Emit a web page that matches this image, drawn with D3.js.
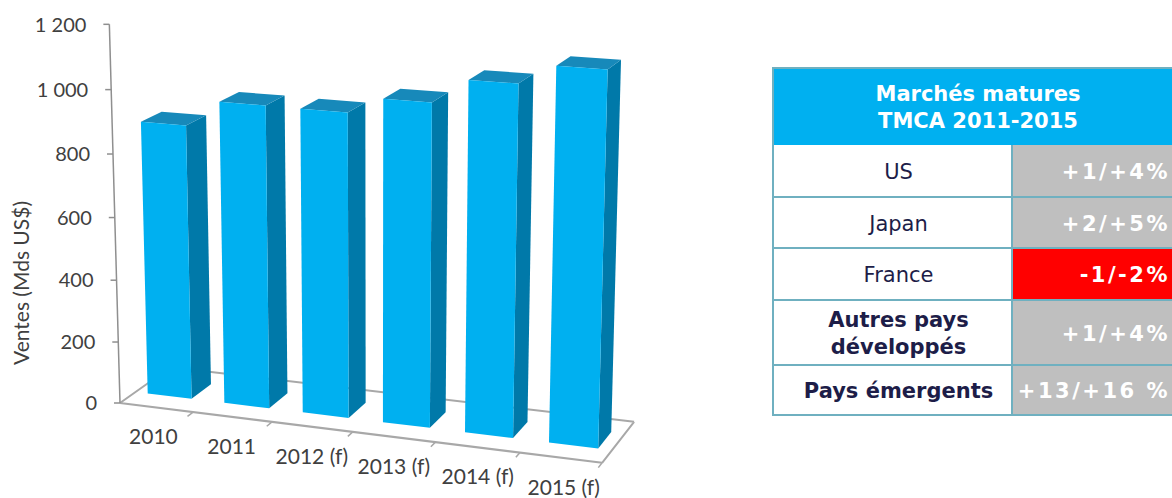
<!DOCTYPE html>
<html>
<head>
<meta charset="utf-8">
<script src="https://cdn.jsdelivr.net/npm/d3@7"></script>
<style>
  html, body { margin: 0; padding: 0; background: #ffffff; }
  svg { display: block; }
</style>
</head>
<body>
<svg id="chart" width="1172" height="498"></svg>
<script>
// ---- data ----
const categories = ["2010", "2011", "2012 (f)", "2013 (f)", "2014 (f)", "2015 (f)"];
const sales = [880, 962, 960, 1010, 1085, 1145];          // Mds US$
const yTicks = [0, 200, 400, 600, 800, 1000, 1200];
const yTitle = "Ventes (Mds US$)";

const tableTitle = ["Marchés matures", "TMCA 2011-2015"];
const regions = [["US"], ["Japan"], ["France"], ["Autres pays", "développés"], ["Pays émergents"]];
const growth = ["+1/+4%", "+2/+5%", "-1/-2%", "+1/+4%", "+13/+16 %"];

// ---- look ----
const colors = {
  front: "#00b0f0", side: "#0079a9", top: "#1789ba",
  floor: "#a8a8a8", axis: "#8f8f8f", text: "#404040",
  header: "#00b0f0", grey: "#bfbfbf", red: "#ff0000",
  border: "#6fb0c0", rowText: "#1d1d48"
};
const boldRows = new Set([3, 4]);

// ---- 3D scene: world units, camera (rotation X 20°, Y 15°, narrow perspective) ----
const deg = Math.PI / 180;
const cam = { yaw: 20 * deg, pitch: 15 * deg, focal: 2470, dist: 2470 };
const world = { step: 87, depth: 125, height: 396, padInner: 0.425, padOuter: 0.16 };
const origin = [120, 403];   // screen position of the floor's front-left corner

const W = world.step * (categories.length - world.padInner + 2 * world.padOuter);
const x = d3.scaleBand().domain(categories).range([0, W])
  .paddingInner(world.padInner).paddingOuter(world.padOuter);
const y = d3.scaleLinear().domain([0, 1200]).range([0, world.height]);
const bw = x.bandwidth();
const zFront = (world.depth - bw) / 2, zBack = zFront + bw;

const target = [W / 2, world.height / 2, world.depth / 2];
const cY = Math.cos(cam.yaw), sY = Math.sin(cam.yaw);
const cP = Math.cos(cam.pitch), sP = Math.sin(cam.pitch);
function raw(p) {
  const dx = p[0] - target[0], dy = p[1] - target[1], dz = p[2] - target[2];
  const x1 = dx * cY + dz * sY, z1 = -dx * sY + dz * cY;
  const y2 = dy * cP + z1 * sP, z2 = -dy * sP + z1 * cP + cam.dist;
  return [cam.focal * x1 / z2, -cam.focal * y2 / z2];
}
const o = raw([0, 0, 0]);
const project = p => { const r = raw(p); return [r[0] - o[0] + origin[0], r[1] - o[1] + origin[1]]; };
const poly = pts => "M" + pts.map(p => project(p).join(",")).join("L") + "Z";
const seg = (a, b) => "M" + project(a).join(",") + "L" + project(b).join(",");

const svg = d3.select("#chart");
const chart = svg.append("g");

// ---- floor ----
chart.append("path")
  .attr("d", seg([0, 0, world.depth], [W, 0, world.depth]) + seg([0, 0, 0], [0, 0, world.depth]) +
             seg([W, 0, 0], [W, 0, world.depth]) + seg([0, 0, 0], [W, 0, 0]))
  .attr("fill", "none").attr("stroke", colors.floor).attr("stroke-width", 2);

// category tick marks between bands, pointing toward the viewer
const bounds = categories.map(c => x(c) - x.step() * world.padInner / 2).slice(1).concat([W]);
chart.append("path")
  .attr("d", bounds.map(b => seg([b, 0, 0], [b, 0, -14])).join(""))
  .attr("fill", "none").attr("stroke", colors.floor).attr("stroke-width", 1.5);

// ---- value axis ----
chart.append("path")
  .attr("d", seg([0, 0, 0], [0, y(1200), 0]))
  .attr("fill", "none").attr("stroke", colors.axis).attr("stroke-width", 1.5);
const fr = d3.formatLocale({ decimal: ",", thousands: "\u00a0", grouping: [3], currency: ["", " €"] });
const fmt = fr.format(",");
const yAxis = chart.append("g").selectAll("g").data(yTicks).join("g")
  .attr("transform", d => `translate(${project([0, y(d), 0])})`);
yAxis.append("line").attr("x1", -6).attr("x2", 0)
  .attr("stroke", colors.axis).attr("stroke-width", 1.5);
yAxis.append("text").attr("x", -23).attr("dy", "0.36em").attr("text-anchor", "end")
  .attr("font-family", "Lato, sans-serif").attr("font-size", 20).attr("fill", colors.text)
  .text(d => fmt(d));

chart.append("text")
  .attr("transform", "translate(29,283) rotate(-90)")
  .attr("text-anchor", "middle")
  .attr("font-family", "Lato, sans-serif").attr("font-size", 21).attr("fill", colors.text)
  .text(yTitle);

// ---- bars (far to near) ----
const bars = chart.append("g").selectAll("g")
  .data(categories.map((c, i) => ({ c, v: sales[i] })))
  .join("g");
bars.each(function (d) {
  const g = d3.select(this);
  const x0 = x(d.c), x1 = x0 + bw, h = y(d.v);
  g.append("path").attr("fill", colors.side)
    .attr("d", poly([[x1, 0, zFront], [x1, 0, zBack], [x1, h, zBack], [x1, h, zFront]]));
  g.append("path").attr("fill", colors.top)
    .attr("d", poly([[x0, h, zFront], [x1, h, zFront], [x1, h, zBack], [x0, h, zBack]]));
  g.append("path").attr("fill", colors.front)
    .attr("d", poly([[x0, 0, zFront], [x1, 0, zFront], [x1, h, zFront], [x0, h, zFront]]));
});

// ---- category labels ----
chart.append("g").selectAll("text").data(categories).join("text")
  .attr("transform", c => `translate(${project([x(c) + bw / 2, 0, -12])})`)
  .attr("dx", 4).attr("dy", 33).attr("text-anchor", "middle")
  .attr("font-family", "Lato, sans-serif").attr("font-size", 21).attr("fill", colors.text)
  .text(c => c);

// ---- growth table ----
const tbl = { left: 773, top: 68, split: 1012, right: 1195, headerH: 77, rowH: [52, 51, 52, 65, 50] };
const T = svg.append("g").attr("font-family", "'DejaVu Sans', Verdana, sans-serif");
T.append("rect").attr("x", tbl.left).attr("y", tbl.top)
  .attr("width", tbl.right - tbl.left).attr("height", tbl.headerH).attr("fill", colors.header);
T.append("g").selectAll("text").data(tableTitle).join("text")
  .attr("x", (tbl.left + tbl.right) / 2 - 6).attr("y", (d, i) => tbl.top + 33 + i * 27)
  .attr("text-anchor", "middle").attr("font-weight", "bold").attr("font-size", 21)
  .attr("fill", "#ffffff").text(d => d);

const rowTops = tbl.rowH.map((h, i) => tbl.top + tbl.headerH + d3.sum(tbl.rowH.slice(0, i)));
const rows = T.append("g").selectAll("g").data(regions).join("g")
  .attr("transform", (d, i) => `translate(0,${rowTops[i]})`);
rows.append("rect").attr("x", tbl.left).attr("width", tbl.split - tbl.left)
  .attr("height", (d, i) => tbl.rowH[i]).attr("fill", "#ffffff");
rows.append("rect").attr("x", tbl.split).attr("width", tbl.right - tbl.split)
  .attr("height", (d, i) => tbl.rowH[i])
  .attr("fill", (d, i) => growth[i].startsWith("-") ? colors.red : colors.grey);
rows.each(function (lines, i) {
  const g = d3.select(this), h = tbl.rowH[i];
  const lh = 27, first = h / 2 + 8 - (lines.length - 1) * lh / 2;
  lines.forEach((t, k) => {
    g.append("text").attr("x", (tbl.left + tbl.split) / 2 + 6).attr("y", first + k * lh)
      .attr("text-anchor", "middle").attr("font-size", 21)
      .attr("font-weight", boldRows.has(i) ? "bold" : "normal")
      .attr("fill", colors.rowText).text(t);
  });
  g.append("text").attr("x", 1170).attr("y", h / 2 + 8)
    .attr("text-anchor", "end").attr("font-size", 21).attr("font-weight", "bold")
    .attr("letter-spacing", 2.5).attr("fill", "#ffffff").text(growth[i]);
});

// grid lines of the table
const tableBottom = rowTops[rowTops.length - 1] + tbl.rowH[tbl.rowH.length - 1];
const gl = T.append("g").attr("stroke", colors.border).attr("stroke-width", 2).attr("fill", "none");
gl.append("rect").attr("x", tbl.left).attr("y", tbl.top)
  .attr("width", tbl.right - tbl.left).attr("height", tableBottom - tbl.top);
gl.selectAll("line.h").data(rowTops.slice(1)).join("line")
  .attr("x1", tbl.left).attr("x2", tbl.right).attr("y1", d => d).attr("y2", d => d);
gl.append("line").attr("x1", tbl.split).attr("x2", tbl.split)
  .attr("y1", tbl.top + tbl.headerH).attr("y2", tableBottom);
</script>
</body>
</html>
